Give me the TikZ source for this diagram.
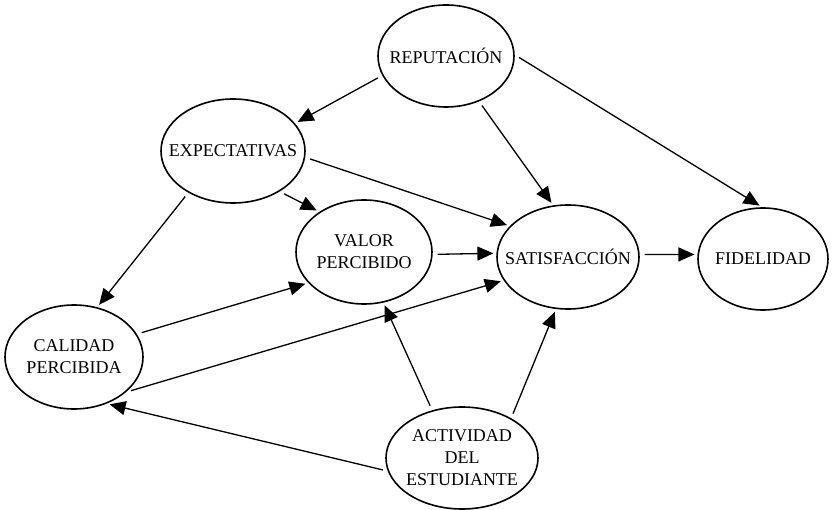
\documentclass[tikz,border=0pt]{standalone}
\usepackage{fontspec}
\setmainfont{Liberation Serif}
\usetikzlibrary{shapes.geometric, arrows.meta}
\tikzset{
  construct/.style={ellipse, draw=black, line width=1.6pt, inner sep=-25pt, align=center, font=\fontsize{18}{22}\selectfont},
  arrow/.style={line width=1.3pt, -{Triangle[length=16pt, width=14pt]}, shorten <=5pt, shorten >=3pt}
}
\begin{document}
\begin{tikzpicture}[x=1pt, y=-1pt]
        \useasboundingbox (0,0) rectangle (832,510);
        \node (rep) [construct, minimum width=136pt, minimum height=102pt] at (446,56) {REPUTACIÓN};
        \node (exp) [construct, minimum width=144pt, minimum height=104pt] at (233,151) {EXPECTATIVAS};
        \node (valor) [construct, minimum width=136pt, minimum height=104pt] at (364,252) {VALOR\\PERCIBIDO};
        \node (sat) [construct, minimum width=142pt, minimum height=104pt] at (568,257) {SATISFACCIÓN};
        \node (fid) [construct, minimum width=130pt, minimum height=102pt] at (763,259) {FIDELIDAD};
        \node (cal) [construct, minimum width=138pt, minimum height=104pt] at (74,357) {CALIDAD\\PERCIBIDA};
        \node (act) [construct, minimum width=152pt, minimum height=102pt] at (462,458) {ACTIVIDAD\\DEL\\ESTUDIANTE};

        \draw [arrow] (rep.197) -- (exp.24);
        \draw [arrow] (rep.-54) -- (sat.106);
        \draw [arrow] (rep.1) -- (fid.91);
        \draw [arrow] (exp.-5) -- (sat.152);
        \draw [arrow] (exp.-41) -- (valor.138);
        \draw [arrow] (exp.223) -- (cal.65);
        \draw [arrow] (valor.-2) -- (sat.177);
        \draw [arrow] (sat.2) -- (fid.176);
        \draw [arrow] (cal.20) -- (valor.209);
        \draw [arrow] (cal.-34) -- (sat.200);
        \draw [arrow] (act.122) -- (valor.-69);
        \draw [arrow] (act.39) -- (sat.257);
        \draw [arrow] (act.190) -- (cal.-55);
    \end{tikzpicture}
\end{document}
